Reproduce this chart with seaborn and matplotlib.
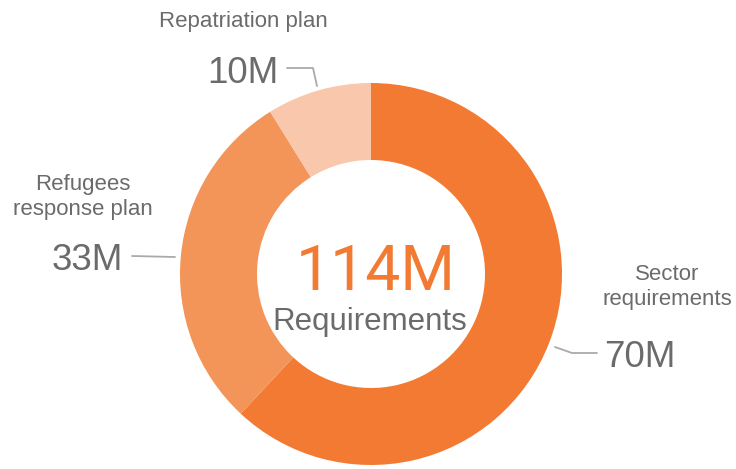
import matplotlib
matplotlib.use("Agg")
import matplotlib.pyplot as plt
import seaborn as sns

categories = ["Sector requirements", "Refugees response plan", "Repatriation plan"]
values = [70, 33, 10]
value_labels = ["70M", "33M", "10M"]
total_label = "114M"
center_label = "Requirements"
colors = ["#F37A32", "#F39559", "#F9C8AC"]

sns.set_theme(style="white")
plt.rcParams['font.family'] = ['Liberation Sans', 'DejaVu Sans']

W, H = 736, 469
fig = plt.figure(figsize=(W / 100, H / 100), dpi=100)
ax = fig.add_axes([0, 0, 1, 1])

def Y(y):
    return H - y

cx, cy, R = 371, 274, 191
ax.pie(values, colors=colors, startangle=90, counterclock=False,
       center=(cx, Y(cy)), radius=R, frame=True,
       wedgeprops=dict(width=R - 114, edgecolor='none'))
ax.set_xlim(0, W)
ax.set_ylim(0, H)
ax.set_aspect('equal')
ax.axis('off')

gray = "#6b6b6b"
lc = "#aaaaaa"
fs_cat = 16
fs_val = 26.5

# category labels
ax.text(243, Y(27), categories[2], ha='center', va='baseline', fontsize=fs_cat, color=gray)
ax.text(83, Y(190), "Refugees", ha='center', va='baseline', fontsize=fs_cat, color=gray)
ax.text(83, Y(215), "response plan", ha='center', va='baseline', fontsize=fs_cat, color=gray)
ax.text(667, Y(280), "Sector", ha='center', va='baseline', fontsize=fs_cat, color=gray)
ax.text(667, Y(305), "requirements", ha='center', va='baseline', fontsize=fs_cat, color=gray)

# value labels
ax.text(243, Y(83), value_labels[2], ha='center', va='baseline', fontsize=fs_val, color=gray)
ax.text(87, Y(270), value_labels[1], ha='center', va='baseline', fontsize=fs_val, color=gray)
ax.text(640, Y(367), value_labels[0], ha='center', va='baseline', fontsize=fs_val, color=gray)

# leader lines
ax.plot([287, 313, 317], [Y(68), Y(68), Y(86)], color=lc, lw=1.3)
ax.plot([132, 175], [Y(256), Y(257)], color=lc, lw=1.3)
ax.plot([555, 572, 597], [Y(347), Y(353), Y(353)], color=lc, lw=1.3)

# center text
ax.text(376, Y(290), total_label, ha='center', va='baseline', fontsize=45,
        color="#F37A32", family=['Roboto', 'DejaVu Sans'])
ax.text(370, Y(330), center_label, ha='center', va='baseline', fontsize=22.5, color=gray)

fig.savefig("out.png", dpi=100)
